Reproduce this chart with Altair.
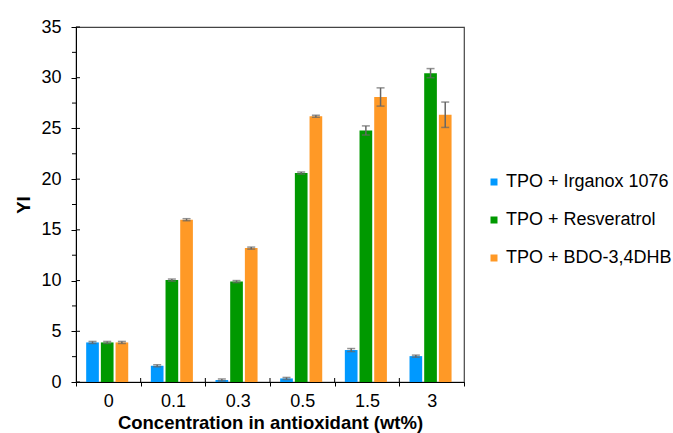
import altair as alt
import pandas as pd

categories = ["0", "0.1", "0.3", "0.5", "1.5", "3"]
series = ["TPO + Irganox 1076", "TPO + Resveratrol", "TPO + BDO-3,4DHB"]
colors = ["#0099ff", "#009900", "#ff9926"]

irganox = [3.9, 1.6, 0.2, 0.35, 3.15, 2.55]
irganox_err = [0.1, 0.1, 0.1, 0.1, 0.15, 0.1]
resveratrol = [3.9, 10.05, 9.9, 20.6, 24.8, 30.45]
resveratrol_err = [0.1, 0.1, 0.1, 0.1, 0.45, 0.45]
bdo = [3.9, 16.0, 13.2, 26.2, 28.1, 26.35]
bdo_err = [0.1, 0.1, 0.1, 0.1, 0.9, 1.25]

y_major = [0, 5, 10, 15, 20, 25, 30, 35]
y_minor = [2.5, 7.5, 12.5, 17.5, 22.5, 27.5, 32.5]

rows = []
for s, vals, errs in [(series[0], irganox, irganox_err),
                      (series[1], resveratrol, resveratrol_err),
                      (series[2], bdo, bdo_err)]:
    for c, v, e in zip(categories, vals, errs):
        rows.append({"conc": c, "series": s, "value": v, "lo": v - e, "hi": v + e})
df = pd.DataFrame(rows)

FONT = "Liberation Sans"
XT = "Concentration in antioxidant (wt%)"
YT = "YI"
yscale = alt.Scale(domain=[0, 35], nice=False, zero=True)
xscale = alt.Scale(domain=categories, paddingInner=0, paddingOuter=0)
offscale = alt.Scale(domain=series, paddingInner=0.136, paddingOuter=0.77, align=0.45)

x_axis = alt.Axis(
    title=XT, labelAngle=0, tickBand="extent",
    tickSize=4, tickColor="black", domainColor="black", labelFontSize=18,
    labelPadding=6, titleFontSize=18.5, titleFontWeight="bold", titlePadding=3,
    labelColor="black", titleColor="black",
)
y_axis = alt.Axis(
    title=YT, values=y_major, tickSize=5, tickColor="black", domainColor="black",
    labelFontSize=18, labelPadding=10, titleFontSize=18.5, titleFontWeight="bold",
    titlePadding=7, labelColor="black", titleColor="black", grid=False,
)

def X(field="conc:N", **kw):
    return alt.X(field, scale=xscale, sort=categories, title=XT, axis=x_axis, **kw)

def Y(field):
    return alt.Y(field, scale=yscale, title=YT, axis=y_axis)

xoff = alt.XOffset("series:N", scale=offscale, sort=series)

bars = alt.Chart(df).mark_bar().encode(
    x=X(),
    xOffset=xoff,
    y=Y("value:Q"),
    color=alt.Color("series:N", sort=series,
                    scale=alt.Scale(domain=series, range=colors),
                    legend=alt.Legend(
                        title=None, orient="none", legendX=409, legendY=146,
                        symbolType="square", symbolSize=49, symbolStrokeWidth=0,
                        labelFontSize=18, labelOffset=3, rowPadding=20, padding=0,
                        labelColor="black", labelLimit=400,
                    )),
)

err = alt.Chart(df).mark_rule(color="#666666", strokeWidth=1.5).encode(
    x=X(), xOffset=xoff, y=Y("lo:Q"), y2="hi:Q",
)
cap_lo = alt.Chart(df).mark_tick(color="#666666", thickness=1.5, size=8).encode(
    x=X(), xOffset=xoff, y=Y("lo:Q"),
)
cap_hi = alt.Chart(df).mark_tick(color="#666666", thickness=1.5, size=8).encode(
    x=X(), xOffset=xoff, y=Y("hi:Q"),
)

ymaj_df = pd.DataFrame({"v": y_major})
ymin_df = pd.DataFrame({"v": y_minor})
bnd_df = pd.DataFrame({"conc": categories[1:]})

ymaj_in = alt.Chart(ymaj_df).mark_rule(color="black").encode(
    y=Y("v:Q"), x=alt.value(0), x2=alt.value(4))
ymin_out = alt.Chart(ymin_df).mark_rule(color="black").encode(
    y=Y("v:Q"), x=alt.value(-4), x2=alt.value(0))
x_in = alt.Chart(bnd_df).mark_rule(color="black").encode(
    x=X(bandPosition=0), y=alt.value(351), y2=alt.value(355))

chart = alt.layer(bars, err, cap_lo, cap_hi, ymaj_in, ymin_out, x_in).properties(
    width=388, height=355,
    autosize=alt.AutoSizeParams(type="none"),
    padding={"left": 76, "top": 27, "right": 209, "bottom": 51},
).configure(font=FONT).configure_view(stroke="#444444", strokeWidth=1.2)

chart.save("out.html", embed_options={"renderer": "svg", "actions": False})
